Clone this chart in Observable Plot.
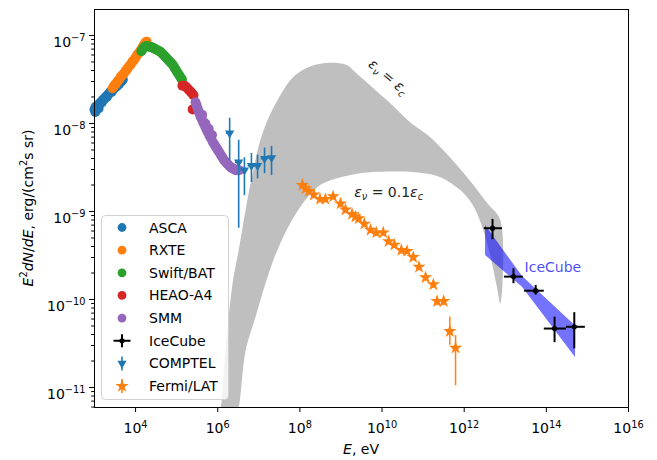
<!DOCTYPE html>
<html><head><meta charset="utf-8">
<script src="https://cdn.jsdelivr.net/npm/d3@7"></script>
<script src="https://cdn.jsdelivr.net/npm/@observablehq/plot@0.6"></script>
<style>
body{margin:0;background:#fff;}
#chart{position:relative;width:657px;height:460px;}
</style></head><body><div id="chart"></div>
<script>
// ---- data (log10 E [eV], log10 E^2 dN/dE [erg/(cm^2 s sr)]) ----
const ascaLogE = [3.00,3.02,3.03,3.06,3.09,3.10,3.12,3.15,3.18,3.21,3.24,3.27,3.30,3.33,3.36,3.39,3.42,3.45,3.48,3.51,3.54,3.57,3.60,3.63,3.66,3.69];
const ascaLogF = [-7.84,-7.87,-7.81,-7.82,-7.79,-7.83,-7.78,-7.76,-7.76,-7.73,-7.72,-7.70,-7.70,-7.67,-7.66,-7.64,-7.64,-7.61,-7.60,-7.58,-7.58,-7.56,-7.55,-7.53,-7.52,-7.50];
const rxteLogE = [3.44,3.48,3.52,3.56,3.60,3.64,3.68,3.72,3.76,3.80,3.84,3.88,3.92,3.96,4.00,4.04,4.08,4.12,4.16,4.20,4.24,4.27];
const rxteLogF = [-7.60,-7.57,-7.55,-7.52,-7.50,-7.47,-7.45,-7.43,-7.40,-7.38,-7.35,-7.33,-7.30,-7.28,-7.25,-7.22,-7.20,-7.17,-7.14,-7.11,-7.08,-7.07];
const swiftLogE = [4.14,4.18,4.22,4.26,4.30,4.34,4.38,4.42,4.46,4.50,4.54,4.58,4.62,4.66,4.70,4.74,4.78,4.82,4.86,4.90,4.94,4.98,5.02,5.06,5.10,5.13];
const swiftLogF = [-7.18,-7.15,-7.13,-7.12,-7.12,-7.13,-7.13,-7.14,-7.15,-7.16,-7.17,-7.18,-7.19,-7.21,-7.23,-7.25,-7.27,-7.29,-7.31,-7.33,-7.36,-7.39,-7.42,-7.45,-7.48,-7.50];
const heaoLogE = [5.14,5.18,5.22,5.26,5.30,5.34,5.38,5.41,5.39];
const heaoLogF = [-7.57,-7.57,-7.58,-7.60,-7.62,-7.64,-7.66,-7.68,-7.84];
const smmLogE = [5.46,5.49,5.52,5.55,5.58,5.61,5.62,5.64,5.67,5.70,5.70,5.73,5.76,5.78,5.80,5.84,5.86,5.88,5.92,5.96,6.00,6.04,6.08,6.12,6.16,6.20,6.24,6.28,6.32,6.36,6.40,6.44,6.48,6.52];
const smmLogF = [-7.76,-7.80,-7.84,-7.88,-7.92,-7.95,-7.90,-7.98,-8.01,-8.04,-8.00,-8.07,-8.10,-8.06,-8.14,-8.17,-8.13,-8.21,-8.24,-8.27,-8.30,-8.33,-8.36,-8.39,-8.42,-8.44,-8.46,-8.48,-8.50,-8.51,-8.52,-8.53,-8.53,-8.53];

const comptelLogE   = [6.29,6.51,6.65,6.82,6.97,7.14,7.31];
const comptelLogF   = [-8.11,-8.44,-8.53,-8.48,-8.48,-8.40,-8.39];
const comptelLogFlo = [-8.42,-9.19,-8.82,-8.67,-8.63,-8.57,-8.59];
const comptelLogFhi = [-7.94,-8.19,-8.39,-8.34,-8.36,-8.28,-8.26];
const comptelLogElo = [6.21,6.43,6.57,6.74,6.89,7.06,7.23];
const comptelLogEhi = [6.37,6.59,6.73,6.90,7.05,7.22,7.39];

const fermiLogE = [8.06,8.14,8.22,8.34,8.49,8.62,8.81,8.99,9.11,9.27,9.35,9.43,9.57,9.72,9.86,10.03,10.16,10.30,10.47,10.61,10.76,10.90,11.06,11.25,11.34,11.50,11.65,11.79];
const fermiLogF = [-8.70,-8.74,-8.77,-8.81,-8.86,-8.86,-8.83,-8.91,-8.98,-9.03,-9.06,-9.08,-9.14,-9.21,-9.24,-9.24,-9.34,-9.38,-9.44,-9.45,-9.52,-9.63,-9.75,-9.83,-10.02,-10.02,-10.36,-10.55];
const fermiLogFlo = [-8.74,-8.78,-8.81,-8.85,-8.90,-8.90,-8.87,-8.95,-9.02,-9.07,-9.10,-9.12,-9.18,-9.25,-9.28,-9.28,-9.38,-9.42,-9.48,-9.49,-9.56,-9.67,-9.79,-9.87,-10.07,-10.07,-10.52,-10.98];
const fermiLogFhi = [-8.66,-8.70,-8.73,-8.77,-8.82,-8.82,-8.79,-8.87,-8.94,-8.99,-9.02,-9.04,-9.10,-9.17,-9.20,-9.20,-9.30,-9.34,-9.40,-9.41,-9.48,-9.59,-9.71,-9.79,-9.97,-9.97,-10.20,-10.41];
const fermiLogEhalf = [0.06,0.06,0.06,0.06,0.06,0.06,0.06,0.06,0.06,0.06,0.06,0.06,0.06,0.06,0.06,0.06,0.06,0.06,0.06,0.06,0.06,0.06,0.06,0.06,0.06,0.06,0.08,0.08];

const iceLogE   = [12.69,13.20,13.74,14.20,14.68];
const iceLogF   = [-9.19,-9.74,-9.90,-10.33,-10.31];
const iceLogElo = [12.49,12.98,13.47,13.95,14.49];
const iceLogEhi = [12.93,13.44,13.95,14.49,14.95];
const iceLogFlo = [-9.32,-9.82,-9.95,-10.49,-10.56];
const iceLogFhi = [-9.09,-9.65,-9.84,-10.20,-10.15];

const iceBandLogE  = [12.52,13.42,14.71];
const iceBandLogHi = [-9.16,-9.74,-10.30];
const iceBandLogLo = [-9.50,-9.86,-10.66];

// gray model band outline: outer curve (eps_nu = eps_c) then inner curve (eps_nu = 0.1 eps_c) back
const bandLogE = [6.02,6.07,6.19,6.36,6.51,6.80,7.09,7.45,7.82,8.14,8.50,9.11,9.40,9.72,10.13,10.69,11.18,11.98,12.57,12.88,12.88,
                  12.79,12.62,12.42,12.20,11.91,11.42,10.94,10.38,9.40,8.57,8.26,7.84,7.45,7.16,6.92,6.68,6.51,6.46];
const bandLogF = [-11.28,-11.23,-10.58,-9.82,-9.44,-8.68,-8.11,-7.74,-7.48,-7.375,-7.32,-7.33,-7.44,-7.57,-7.74,-7.99,-8.16,-8.56,-8.91,-9.10,-10.05,
                  -9.84,-9.47,-9.15,-8.92,-8.76,-8.61,-8.56,-8.545,-8.57,-8.68,-8.80,-9.07,-9.44,-9.82,-10.20,-10.58,-11.23,-11.28];

const xTicks = [1e4,1e6,1e8,1e10,1e12,1e14,1e16];
const yTicks = [1e-11,1e-10,1e-9,1e-8,1e-7];
const yMinor = [6e-12,7e-12,8e-12,9e-12,2e-11,3e-11,4e-11,5e-11,6e-11,7e-11,8e-11,9e-11,2e-10,3e-10,4e-10,5e-10,6e-10,7e-10,8e-10,9e-10,
                2e-9,3e-9,4e-9,5e-9,6e-9,7e-9,8e-9,9e-9,2e-8,3e-8,4e-8,5e-8,6e-8,7e-8,8e-8,9e-8];

const seriesNames  = ["ASCA","RXTE","Swift/BAT","HEAO-A4","SMM","IceCube","COMPTEL","Fermi/LAT"];
const seriesColors = ["#1f77b4","#ff7f0e","#2ca02c","#d62728","#9467bd","#000000","#1f77b4","#ff7f0e"];

// annotations (model band labels): log E, log F, rotation
const annotLogE = [10.23, 10.16];
const annotLogF = [-7.43, -8.73];
const annotRot  = [40, 0];
// IceCube band label
const iceLabelLogE = [13.47];
const iceLabelLogF = [-9.64];

// ---- build tables ----
const pts = (E, F) => E.map((e, i) => ({x: 10 ** e, y: 10 ** F[i]}));
const xray = [
  pts(ascaLogE, ascaLogF), pts(rxteLogE, rxteLogF), pts(swiftLogE, swiftLogF),
  pts(heaoLogE, heaoLogF), pts(smmLogE, smmLogF)
];
const band = pts(bandLogE, bandLogF);
const comptel = comptelLogE.map((e, i) => ({x: 10**e, y: 10**comptelLogF[i], y1: 10**comptelLogFlo[i], y2: 10**comptelLogFhi[i], x1: 10**comptelLogElo[i], x2: 10**comptelLogEhi[i]}));
const fermi = fermiLogE.map((e, i) => ({x: 10**e, y: 10**fermiLogF[i], y1: 10**fermiLogFlo[i], y2: 10**fermiLogFhi[i], x1: 10**(e - fermiLogEhalf[i]), x2: 10**(e + fermiLogEhalf[i])}));
const ice = iceLogE.map((e, i) => ({x: 10**e, y: 10**iceLogF[i], y1: 10**iceLogFlo[i], y2: 10**iceLogFhi[i], x1: 10**iceLogElo[i], x2: 10**iceLogEhi[i]}));
const iceBand = iceBandLogE.map((e, i) => ({x: 10**e, y1: 10**iceBandLogLo[i], y2: 10**iceBandLogHi[i]}));
const annots = annotLogE.map((e, i) => ({x: 10**e, y: 10**annotLogF[i], rot: annotRot[i], i}));
const iceLabel = pts(iceLabelLogE, iceLabelLogF);

const triDown = {draw(ctx, size) {
  const s = Math.sqrt(4 * size / Math.sqrt(3)), h = s * Math.sqrt(3) / 2;
  ctx.moveTo(0, 2*h/3); ctx.lineTo(-s/2, -h/3); ctx.lineTo(s/2, -h/3); ctx.closePath();
}};

const FONT = "DejaVu Sans, sans-serif";
const FS = 14;
const tf = d => "10^" + Math.round(Math.log10(d));

const svg = Plot.plot({
  width: 657, height: 460,
  marginLeft: 94, marginRight: 29, marginTop: 9, marginBottom: 53,
  style: {fontFamily: FONT, fontSize: FS + "px", background: "white", color: "black"},
  x: {type: "log", domain: [1e3, 1e16]},
  y: {type: "log", domain: [10 ** -11.227, 10 ** -6.705]},
  marks: [
    Plot.line(band, {x: "x", y: "y", fill: "#bfbfbf", stroke: "none", curve: "catmull-rom", clip: true}),
    ...xray.map((d, k) => Plot.dot(d, {x: "x", y: "y", r: 5, fill: seriesColors[k], stroke: "none"})),
    Plot.ruleX(comptel, {x: "x", y1: "y1", y2: "y2", stroke: seriesColors[6], strokeWidth: 1.6}),
    Plot.ruleY(comptel, {y: "y", x1: "x1", x2: "x2", stroke: seriesColors[6], strokeWidth: 1.6}),
    Plot.dot(comptel, {x: "x", y: "y", symbol: triDown, r: 3.4, fill: seriesColors[6], stroke: "none"}),
    Plot.ruleX(fermi, {x: "x", y1: "y1", y2: "y2", stroke: seriesColors[7], strokeWidth: 1.5}),
    Plot.ruleY(fermi, {y: "y", x1: "x1", x2: "x2", stroke: seriesColors[7], strokeWidth: 1.5}),
    Plot.dot(fermi, {x: "x", y: "y", symbol: "star", r: 4.2, fill: seriesColors[7], stroke: "none"}),
    Plot.areaY(iceBand, {x: "x", y1: "y1", y2: "y2", fill: "blue", fillOpacity: 0.55}),
    Plot.ruleX(ice, {x: "x", y1: "y1", y2: "y2", stroke: "black", strokeWidth: 2}),
    Plot.ruleY(ice, {y: "y", x1: "x1", x2: "x2", stroke: "black", strokeWidth: 2}),
    Plot.dot(ice, {x: "x", y: "y", r: 2.6, fill: "black", stroke: "none"}),
    Plot.text(annots, {x: "x", y: "y", text: d => "@@" + d.i, rotate: "rot", fontSize: FS,
      textAnchor: "middle", fill: "#262626"}),
    Plot.text(iceLabel, {x: "x", y: "y", text: () => "IceCube", fontSize: FS, textAnchor: "start",
      fill: "blue", fillOpacity: 0.72}),
    Plot.axisX({ticks: xTicks, tickFormat: tf, tickSize: 5, tickPadding: 11, label: null}),
    Plot.axisY({ticks: yTicks, tickFormat: tf, tickSize: 5, tickPadding: 4, label: null}),
    Plot.axisY({ticks: yMinor, tickFormat: () => "", tickSize: 2.8, label: null}),
    Plot.frame({stroke: "black", strokeWidth: 1})
  ]
});
document.getElementById("chart").appendChild(svg);

const NS = "http://www.w3.org/2000/svg";
function rich(el, parts, base) {
  while (el.firstChild) el.removeChild(el.firstChild);
  let cur = 0;
  for (const p of parts) {
    const ts = document.createElementNS(NS, "tspan");
    const off = p.sup ? -0.42 * base : p.sub ? 0.22 * base : 0;
    if (off !== cur) { ts.setAttribute("dy", off - cur); cur = off; }
    if (p.sup || p.sub) ts.setAttribute("font-size", 0.7 * base);
    if (p.i) ts.setAttribute("font-style", "italic");
    ts.textContent = p.t;
    el.appendChild(ts);
  }
}
const annotParts = [
  [{t: "\u03b5", i: true}, {t: "\u03bd", i: true, sub: true}, {t: " = "}, {t: "\u03b5", i: true}, {t: "c", i: true, sub: true}],
  [{t: "\u03b5", i: true}, {t: "\u03bd", i: true, sub: true}, {t: " = 0.1"}, {t: "\u03b5", i: true}, {t: "c", i: true, sub: true}]
];
svg.querySelectorAll("text").forEach(t => {
  const m = /^10\^(-?\d+)$/.exec(t.textContent);
  if (m) { rich(t, [{t: "10"}, {t: m[1].replace("-", "\u2212"), sup: true}], FS); return; }
  const a = /^@@(\d)$/.exec(t.textContent);
  if (a) { rich(t, annotParts[+a[1]], FS); t.setAttribute("dy", "0.35em"); }
});
// nudge y tick labels down slightly (matplotlib centres the full label box)
svg.querySelectorAll('g[aria-label="y-axis tick label"] text').forEach(t => t.setAttribute("dy", "0.48em"));

const root = d3.select(svg);
// axis labels
const yl = root.append("text").attr("transform", "translate(33,208) rotate(-90)")
  .attr("text-anchor", "middle").attr("font-size", FS).attr("fill", "#000");
rich(yl.node(), [{t: "E", i: true}, {t: "2", sup: true}, {t: "dN", i: true}, {t: "/"}, {t: "dE", i: true}, {t: ", erg/(cm"}, {t: "2", sup: true}, {t: "s sr)"}], FS);
const xl = root.append("text").attr("x", 361).attr("y", 454)
  .attr("text-anchor", "middle").attr("font-size", FS).attr("fill", "#000");
rich(xl.node(), [{t: "E", i: true}, {t: ", eV"}], FS);

// legend
const lg = root.append("g");
lg.append("rect").attr("x", 101.5).attr("y", 215.5).attr("width", 127).attr("height", 184)
  .attr("rx", 4).attr("fill", "white").attr("fill-opacity", 0.8).attr("stroke", "#d0d0d0").attr("stroke-width", 1);
seriesNames.forEach((name, i) => {
  const cy = 227.5 + i * 22.65, cx = 122;
  const c = seriesColors[i];
  if (i < 5) {
    lg.append("circle").attr("cx", cx).attr("cy", cy).attr("r", 4.4).attr("fill", c);
  } else if (i === 5) {
    lg.append("line").attr("x1", cx - 8.5).attr("x2", cx + 8.5).attr("y1", cy).attr("y2", cy).attr("stroke", c).attr("stroke-width", 2);
    lg.append("line").attr("x1", cx).attr("x2", cx).attr("y1", cy - 6.5).attr("y2", cy + 6.5).attr("stroke", c).attr("stroke-width", 2);
    lg.append("circle").attr("cx", cx).attr("cy", cy).attr("r", 2.6).attr("fill", c);
  } else {
    lg.append("line").attr("x1", cx).attr("x2", cx).attr("y1", cy - 7).attr("y2", cy + 7).attr("stroke", c).attr("stroke-width", 1.6);
    const sym = i === 6 ? triDown : d3.symbolStar;
    const size = Math.PI * (i === 6 ? 3.4 : 4.2) ** 2;
    lg.append("path").attr("transform", `translate(${cx},${cy})`).attr("d", d3.symbol(sym, size)()).attr("fill", c);
  }
  lg.append("text").attr("x", 149).attr("y", cy).attr("dy", "0.36em").attr("text-anchor", "start")
    .attr("font-size", FS).attr("fill", "#000").text(name);
});
</script>
</body></html>
